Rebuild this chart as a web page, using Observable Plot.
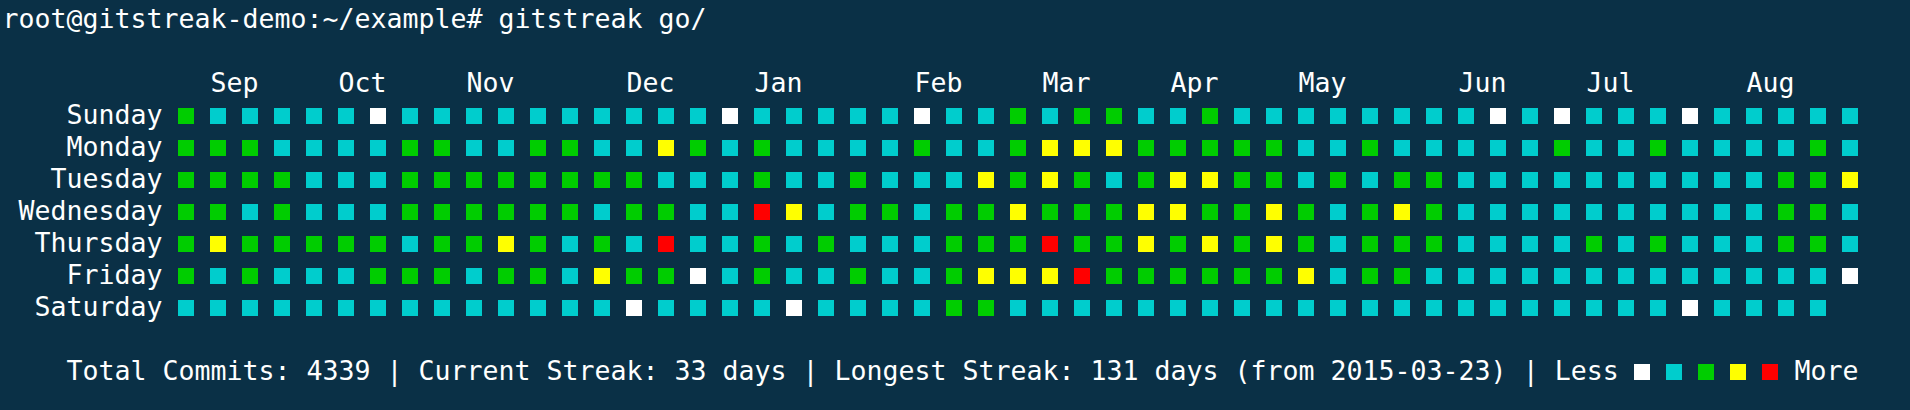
<!DOCTYPE html>
<html>
<head>
<meta charset="utf-8">
<script src="https://cdn.jsdelivr.net/npm/d3@7"></script>
<script src="https://cdn.jsdelivr.net/npm/@observablehq/plot@0.6"></script>
<style>
  html, body { margin: 0; padding: 0; background: #0a3046; overflow: hidden; }
  #chart svg { display: block; }
</style>
</head>
<body>
<div id="chart"></div>
<script>
// ---- data ----
const promptLine = "root@gitstreak-demo:~/example# gitstreak go/";
const weekdays = ["Sunday", "Monday", "Tuesday", "Wednesday", "Thursday", "Friday", "Saturday"];
const monthLabels = ["Sep", "Oct", "Nov", "Dec", "Jan", "Feb", "Mar", "Apr", "May", "Jun", "Jul", "Aug"];
const monthWeeks = [1, 5, 9, 14, 18, 23, 27, 31, 35, 40, 44, 49];

// activity level per week (0 = none … 4 = most)
const sunday    = [2,1,1,1,1,1,0,1,1,1,1,1,1, 1,1,1,1,0,1,1,1,1,1,0,1,1, 2,1,2,2,1,1,2,1,1,1,1,1,1, 1,1,0,1,0,1,1,1,0,1,1,1,1,1];
const monday    = [2,2,2,1,1,1,1,2,2,1,1,2,2, 1,1,3,2,1,2,1,1,1,1,2,1,1, 2,3,3,3,2,2,2,2,2,1,1,2,1, 1,1,1,1,2,1,1,2,1,1,1,1,2,1];
const tuesday   = [2,2,2,2,1,1,1,2,2,2,2,2,2, 2,2,1,1,1,2,1,1,2,1,1,1,3, 2,3,2,1,2,3,3,2,2,1,2,1,2, 2,1,1,1,1,1,1,1,1,1,1,2,2,3];
const wednesday = [2,2,1,2,1,1,1,2,2,2,2,2,2, 1,2,2,1,1,4,3,1,2,2,1,2,2, 3,2,2,2,3,3,2,2,3,2,1,2,3, 2,1,1,1,1,1,1,1,1,1,1,2,2,1];
const thursday  = [2,3,2,2,2,2,2,1,2,2,3,2,1, 2,1,4,1,1,2,1,2,1,1,1,2,2, 2,4,2,2,3,2,3,2,3,2,1,2,2, 2,1,1,1,1,2,1,2,1,1,1,2,2,1];
const friday    = [2,1,2,1,1,1,2,2,2,1,2,2,1, 3,2,2,0,1,2,1,1,2,1,1,2,3, 3,3,4,2,2,2,2,2,2,3,1,2,2, 1,1,1,1,1,1,1,1,1,1,1,1,1,0];
const saturday  = [1,1,1,1,1,1,1,1,1,1,1,1,1, 1,0,1,1,1,1,0,1,1,1,1,2,2, 1,1,1,1,1,1,1,1,1,1,1,1,1, 1,1,1,1,1,1,1,1,0,1,1,1,1];

const levels = [0, 1, 2, 3, 4];
const totalCommits = 4339;
const currentStreak = 33;
const longestStreak = 131;
const longestFrom = "2015-03-23";

// ---- build ----
const rows = [sunday, monday, tuesday, wednesday, thursday, friday, saturday];
const cells = rows.flatMap((vals, day) => vals.map((level, week) => ({week, day, level})));
const footer = `Total Commits: ${totalCommits} | Current Streak: ${currentStreak} days | Longest Streak: ${longestStreak} days (from ${longestFrom}) | Less`;

const levelColors = ["#ffffff", "#00cdcd", "#00cd00", "#ffff00", "#ff0000"];
const FONT = "DejaVu Sans Mono";
const FS = 26.58;
const txt = {fontFamily: FONT, fontSize: FS, fill: "#ffffff", dy: -1.5};

const chart = Plot.plot({
  width: 1910,
  height: 410,
  margin: 0,
  x: {type: "linear", domain: [0, 52], range: [178, 1842], axis: null},
  y: {type: "linear", domain: [0, 6], range: [116, 308], axis: null},
  color: {type: "ordinal", domain: levels, range: levelColors, legend: false},
  style: {background: "#0a3046", color: "#ffffff", fontFamily: FONT},
  marks: [
    Plot.text([promptLine], {...txt, x: -5.5, y: -3, text: d => d, textAnchor: "start"}),
    Plot.text(monthLabels, {...txt, x: (d, i) => monthWeeks[i], y: -1, text: d => d, textAnchor: "start"}),
    Plot.text(weekdays, {...txt, x: -0.5, y: (d, i) => i, text: d => d, textAnchor: "end"}),
    Plot.rect(cells, {
      x1: "week", x2: d => d.week + 0.5,
      y1: d => d.day - 0.25, y2: d => d.day + 0.25,
      fill: "level", shapeRendering: "crispEdges"
    }),
    Plot.text([footer], {...txt, x: -3.5, y: 8, text: d => d, textAnchor: "start"}),
    Plot.rect(levels, {
      x1: (d, i) => 45.5 + i, x2: (d, i) => 46 + i,
      y1: 7.75, y2: 8.25,
      fill: d => d, shapeRendering: "crispEdges"
    }),
    Plot.text(["More"], {...txt, x: 50.5, y: 8, text: d => d, textAnchor: "start"})
  ]
});
document.getElementById("chart").appendChild(chart);
</script>
</body>
</html>
